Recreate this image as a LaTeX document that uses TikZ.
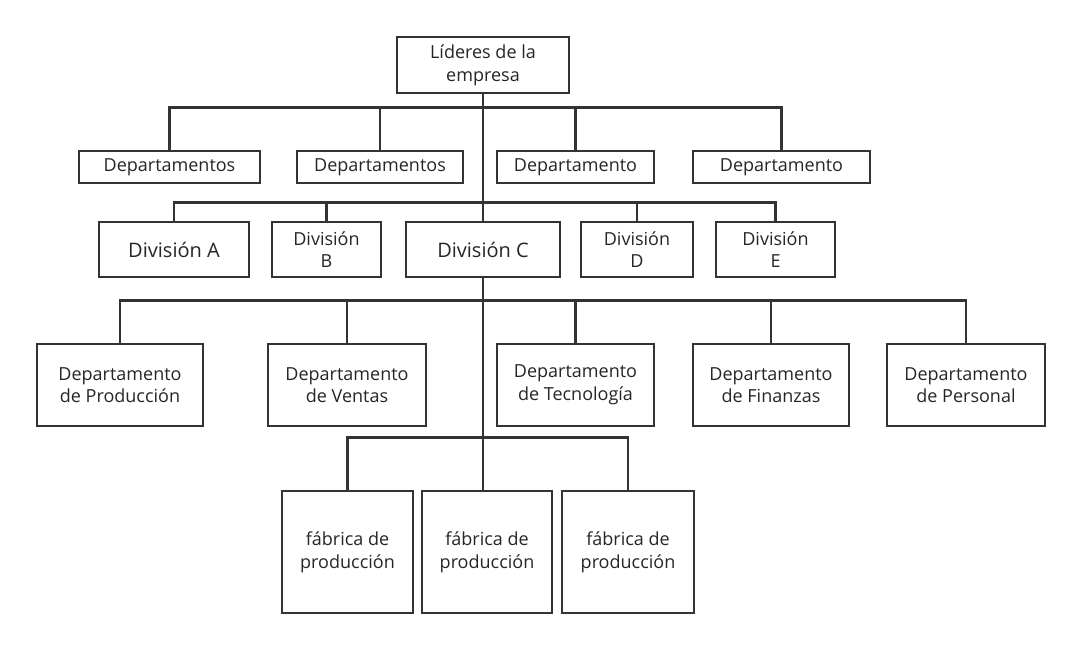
\documentclass[tikz,border=0pt]{standalone}
\usepackage{fontspec}
\setmainfont{Open Sans}
\usepackage{tikz}
\usetikzlibrary{positioning,calc}
\definecolor{line_color}{RGB}{51,51,51}

\begin{document}
\begin{tikzpicture}[
                x=0.75pt, y=-0.75pt,
                every node/.style={inner sep=2pt},
                orgbox/.style={draw=line_color, line width=2pt, fill=white, align=center, text=black!85, font=\fontsize{13.5}{17}\selectfont},
                leader/.style={orgbox, minimum width=129pt, minimum height=42pt},
                deptbox/.style={orgbox, minimum height=24pt},
                divbox/.style={orgbox, minimum height=41.25pt},
                bigtext/.style={font=\fontsize{15}{18}\selectfont},
                unitbox/.style={orgbox, minimum height=61.5pt},
                factory/.style={orgbox, minimum height=91.5pt},
                link/.style={draw=line_color, line width=2pt, line join=miter}
            ]
                \useasboundingbox (0,0) rectangle (1081,651);

                % Top: company leaders
                \node[leader] (lead) at (483, 65) {Líderes de la\\empresa};

                % Level 2: departments under the leaders
                \node[deptbox, minimum width=135.75pt] (d1) at (169.5, 167) {Departamentos};
                \node[deptbox, minimum width=124.5pt] (d2) at (380, 167) {Departamentos};
                \node[deptbox, minimum width=117.75pt] (d3) at (575.5, 167) {Departamento};
                \node[deptbox, minimum width=132.75pt] (d4) at (781.5, 167) {Departamento};

                % Level 3: divisions
                \node[divbox, bigtext, minimum width=112.5pt] (divA) at (174, 249.5) {División A};
                \node[divbox, minimum width=81.75pt] (divB) at (326.5, 249.5) {División\\B};
                \node[divbox, bigtext, minimum width=115.5pt] (divC) at (483, 249.5) {División C};
                \node[divbox, minimum width=84pt] (divD) at (637, 249.5) {División\\D};
                \node[divbox, minimum width=89.25pt] (divE) at (775.5, 249.5) {División\\E};

                % Level 4: departments of Division C
                \node[unitbox, minimum width=124.5pt] (prod) at (120, 385) {Departamento\\de Producción};
                \node[unitbox, minimum width=118.5pt] (vent) at (347, 385) {Departamento\\de Ventas};
                \node[unitbox, minimum width=117.75pt] (tecn) at (575.5, 385) {Departamento\\de Tecnología};
                \node[unitbox, minimum width=117pt] (fina) at (771, 385) {Departamento\\de Finanzas};
                \node[unitbox, minimum width=118.5pt] (pers) at (966, 385) {Departamento\\de Personal};

                % Level 5: factories
                \node[factory, minimum width=98.25pt] (fab1) at (347.5, 552) {fábrica de\\producción};
                \node[factory, minimum width=97.5pt] (fab2) at (487, 552) {fábrica de\\producción};
                \node[factory, minimum width=99pt] (fab3) at (628, 552) {fábrica de\\producción};

                % Connectors
                \foreach \n in {d1,d2,d3,d4}
                    \draw[link] (lead.south) -- ++(0,13) -| (\n.north);
                \foreach \n in {divA,divB,divC,divD,divE}
                    \draw[link] (lead.south) -- ++(0,108) -| (\n.north);
                \foreach \n in {prod,vent,tecn,fina,pers}
                    \draw[link] (divC.south) -- ++(0,22) -| (\n.north);
                \foreach \n in {fab1,fab3}
                    \draw[link] (divC.south) -- ++(0,159) -| (\n.north);
                \draw[link] (divC.south) -- (divC.south |- fab2.north);
            \end{tikzpicture}
\end{document}
